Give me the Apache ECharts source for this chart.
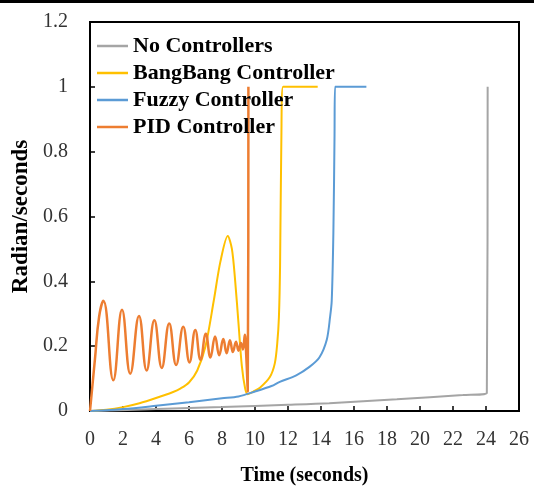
<!DOCTYPE html>
<html>
<head>
<meta charset="utf-8">
<script src="https://cdn.jsdelivr.net/npm/echarts@6/dist/echarts.min.js"></script>
<style>
  html, body { margin: 0; padding: 0; background: #fff; }
  #chart { width: 534px; height: 487px; }
</style>
</head>
<body>
<div id="chart"></div>
<script>
// values
const seriesNames = ['No Controllers', 'BangBang Controller', 'Fuzzy Controller', 'PID Controller'];
const xTicks = [0, 2, 4, 6, 8, 10, 12, 14, 16, 18, 20, 22, 24, 26];
const yTicks = [0, 0.2, 0.4, 0.6, 0.8, 1, 1.2];

const noCtrlT = [0, 4, 8, 12, 14.5, 18.6, 22.6, 24.05, 24.1];
const noCtrlV = [0, 0.006, 0.012, 0.019, 0.024, 0.036, 0.049, 0.056, 1.0];

const bangT = [0, 1, 2, 3, 4, 5, 5.5, 6, 6.5, 7, 7.5, 7.9, 8.35, 8.6, 8.8, 9.0, 9.2, 9.4, 9.55,
               9.9, 10.3, 10.9, 11.2, 11.35, 11.45, 11.52, 11.6, 11.7, 13.8];
const bangV = [0, 0.004, 0.012, 0.024, 0.04, 0.058, 0.07, 0.088, 0.125, 0.2, 0.34, 0.46, 0.54, 0.5, 0.4, 0.27, 0.14, 0.07, 0.052,
               0.06, 0.072, 0.105, 0.147, 0.21, 0.29, 0.45, 0.85, 1.0, 1.0];

const fuzzyT = [0, 2, 4, 6, 8, 9, 10, 11, 11.5, 12.5, 13.3, 13.9, 14.35, 14.55, 14.65, 14.75, 14.82, 14.85, 16.75];
const fuzzyV = [0, 0.006, 0.016, 0.027, 0.039, 0.045, 0.06, 0.077, 0.09, 0.11, 0.136, 0.165, 0.22, 0.29, 0.34, 0.55, 0.85, 1.0, 1.0];

const pidT = [0, 0.3, 0.55, 0.81, 1.41, 1.94, 2.44, 2.97, 3.43, 3.9, 4.35, 4.8, 5.22, 5.65, 6.03, 6.38, 6.7, 7.02,
              7.3, 7.58, 7.83, 8.08, 8.28, 8.48, 8.66, 8.85, 9.0, 9.15, 9.27, 9.38, 9.47, 9.56, 9.6];
const pidV = [0, 0.16, 0.29, 0.34, 0.095, 0.312, 0.115, 0.293, 0.125, 0.28, 0.133, 0.27, 0.142, 0.26, 0.15, 0.25, 0.158, 0.238,
              0.165, 0.23, 0.172, 0.222, 0.178, 0.218, 0.182, 0.214, 0.186, 0.21, 0.19, 0.235, 0.17, 0.06, 1.0];

const colors = ['#A5A5A5', '#FFC000', '#5B9BD5', '#ED7D31'];

function zip(ts, vs) {
    return ts.map((t, i) => [t, vs[i]]);
}

const serif = 'Liberation Serif';
const chart = echarts.init(document.getElementById('chart'));

const datas = [zip(noCtrlT, noCtrlV), zip(bangT, bangV), zip(fuzzyT, fuzzyV), zip(pidT, pidV)];
const widths = [2, 2, 2, 2.5];
const smooths = [0.3, 0.3, 0.3, 0.45];

chart.setOption({
    animation: false,
    color: colors,
    graphic: [{
        type: 'rect', left: 0, top: 0,
        shape: { width: 534, height: 3 },
        style: { fill: '#000' }
    }],
    grid: {
        left: 90, right: 15, top: 22, bottom: 76,
        outerBoundsMode: 'none',
        show: true, borderColor: '#000', borderWidth: 2
    },
    legend: {
        orient: 'vertical',
        left: 97, top: 35,
        padding: 0,
        icon: 'rect',
        itemWidth: 31, itemHeight: 2.5, itemGap: 5,
        data: seriesNames,
        textStyle: { fontFamily: serif, fontWeight: 'bold', fontSize: 22, color: '#000' }
    },
    xAxis: {
        type: 'value',
        min: 0, max: 26, interval: 2,
        name: 'Time (seconds)',
        nameLocation: 'middle', nameGap: 55,
        nameTextStyle: { fontFamily: serif, fontWeight: 'bold', fontSize: 20, color: '#000' },
        axisLine: { lineStyle: { color: '#000', width: 2 } },
        axisTick: { inside: true, length: 5, lineStyle: { color: '#000', width: 1.5 } },
        splitLine: { show: false },
        axisLabel: {
            fontFamily: serif, fontSize: 20, color: '#333', margin: 19,
            formatter: v => xTicks.includes(v) ? String(v) : ''
        }
    },
    yAxis: {
        type: 'value',
        min: 0, max: 1.2, interval: 0.2,
        name: 'Radian/seconds',
        nameLocation: 'middle', nameGap: 56,
        nameTextStyle: { fontFamily: serif, fontWeight: 'bold', fontSize: 23, color: '#000' },
        axisLine: { show: true, lineStyle: { color: '#000', width: 2 } },
        axisTick: { show: true, inside: true, length: 5, lineStyle: { color: '#000', width: 1.5 } },
        splitLine: { show: false },
        axisLabel: {
            fontFamily: serif, fontSize: 20, color: '#333', margin: 22,
            formatter: v => {
                const r = +v.toFixed(1);
                return yTicks.includes(r) ? String(r) : '';
            }
        }
    },
    series: seriesNames.map((name, i) => ({
        name: name,
        type: 'line',
        symbol: 'none',
        smooth: smooths[i],
        lineStyle: { width: widths[i], color: colors[i] },
        data: datas[i]
    }))
});
</script>
</body>
</html>
